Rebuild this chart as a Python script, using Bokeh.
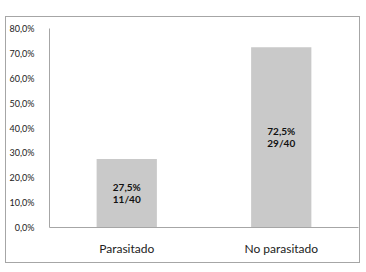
from bokeh.plotting import figure
from bokeh.models import ColumnDataSource, FixedTicker, FactorRange, Range1d
from bokeh.core.properties import value
from bokeh.embed import file_html
from bokeh.resources import INLINE

categories = ["Parasitado", "No parasitado"]
percentages = [27.5, 72.5]
counts = ["11/40", "29/40"]
y_ticks = [0, 10, 20, 30, 40, 50, 60, 70, 80]
y_tick_labels = ["0,0%", "10,0%", "20,0%", "30,0%", "40,0%", "50,0%", "60,0%", "70,0%", "80,0%"]

pct_labels = [("%.1f%%" % v).replace(".", ",") for v in percentages]
src = ColumnDataSource(dict(cat=categories, val=percentages, mid=[v / 2 for v in percentages],
                            pct=pct_labels, cnt=counts))

p = figure(x_range=FactorRange(factors=categories, range_padding=0), y_range=Range1d(0, 80),
           width=353, height=245, output_backend="svg", toolbar_location=None,
           min_border_left=42, min_border_right=3, min_border_top=11, min_border_bottom=37,
           styles={"margin-left": "5px", "margin-top": "16px",
                   "border": "1px solid #a6a6a6", "box-sizing": "content-box"})
p.outline_line_color = None
p.xgrid.visible = False
p.ygrid.visible = False

p.vbar(x="cat", top="val", width=0.39, source=src, fill_color="#c9c9c9", line_color=None)
p.text(x="cat", y="mid", text="pct", source=src, y_offset=-6, text_align="center",
       text_baseline="middle", text_font=value("Lato"), text_font_size="10px",
       text_font_style="bold", text_color="#111111")
p.text(x="cat", y="mid", text="cnt", source=src, y_offset=6, text_align="center",
       text_baseline="middle", text_font=value("Lato"), text_font_size="10px",
       text_font_style="bold", text_color="#111111")

p.yaxis.ticker = FixedTicker(ticks=y_ticks)
p.yaxis.major_label_overrides = {t: l for t, l in zip(y_ticks, y_tick_labels)}
p.yaxis.major_tick_line_color = None
p.yaxis.minor_tick_line_color = None
p.yaxis.major_label_standoff = 9
p.yaxis.major_label_text_font = "Lato"
p.yaxis.major_label_text_font_size = "9px"
p.yaxis.major_label_text_color = "#222222"
p.yaxis.axis_line_color = "#a6a6a6"

p.xaxis.major_tick_line_color = None
p.xaxis.minor_tick_line_color = None
p.xaxis.major_label_standoff = 7
p.xaxis.major_label_text_font = "Lato"
p.xaxis.major_label_text_font_size = "12px"
p.xaxis.major_label_text_color = "#222222"
p.xaxis.axis_line_color = "#a6a6a6"

open("out.html", "w").write(file_html(p, INLINE))
